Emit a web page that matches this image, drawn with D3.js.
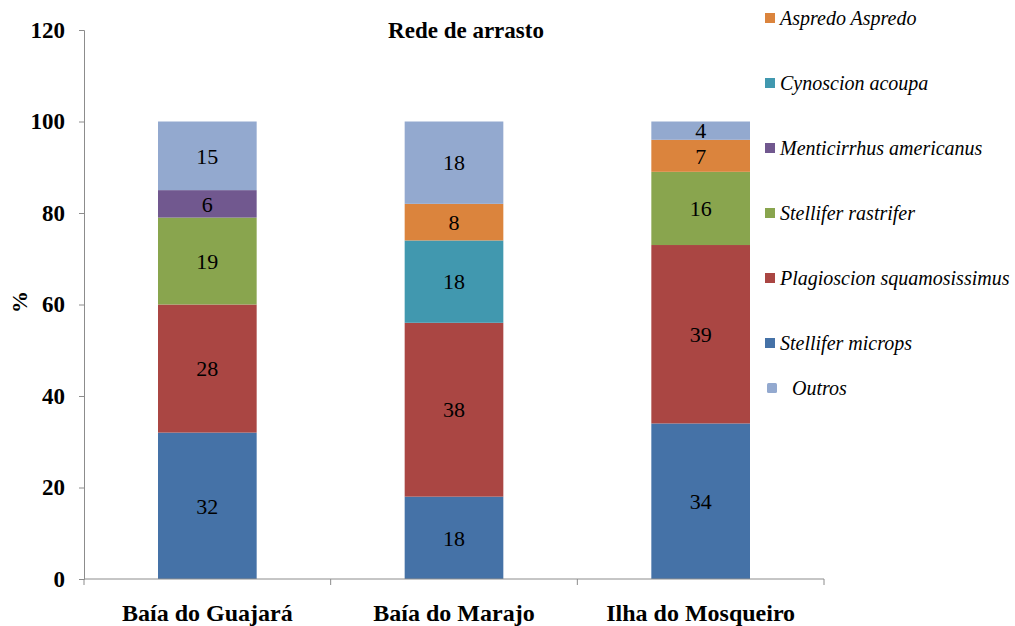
<!DOCTYPE html>
<html>
<head>
<meta charset="utf-8">
<script src="https://cdn.jsdelivr.net/npm/d3@7"></script>
<style>
  body { margin: 0; background: #fff; }
  text { font-family: "Liberation Serif", "Times New Roman", serif; }
</style>
</head>
<body>
<svg id="canvas" width="1015" height="626"></svg>
<script>
// chart data
let sites = ["Baía do Guajará", "Baía do Marajo", "Ilha do Mosqueiro"];
let species = ["Stellifer microps", "Plagioscion squamosissimus", "Stellifer rastrifer",
               "Menticirrhus americanus", "Cynoscion acoupa", "Aspredo Aspredo", "Outros"];
let stelliferMicrops = [32, 18, 34];
let plagioscion = [28, 38, 39];
let stelliferRastrifer = [19, 0, 16];
let menticirrhus = [6, 0, 0];
let cynoscion = [0, 18, 0];
let aspredo = [0, 8, 7];
let outros = [15, 18, 4];
let yTicks = [0, 20, 40, 60, 80, 100, 120];

let colors = ["#4572A7", "#AA4643", "#89A54E", "#71588F", "#4198AF", "#DB843D", "#93A9CF"];
let seriesValues = [stelliferMicrops, plagioscion, stelliferRastrifer, menticirrhus, cynoscion, aspredo, outros];

// build rows for d3.stack
let rows = sites.map((s, i) => {
    let row = { site: s };
    species.forEach((sp, j) => { row[sp] = seriesValues[j][i]; });
    return row;
});

let svg = d3.select("#canvas");
let plotLeft = 84, plotRight = 824, plotTop = 30, plotBottom = 579;

let x = d3.scaleBand().domain(sites).range([plotLeft, plotRight]).paddingInner(0.6).paddingOuter(0.3);
let y = d3.scaleLinear().domain([0, 120]).range([plotBottom, plotTop]);
let color = d3.scaleOrdinal().domain(species).range(colors);

let stacked = d3.stack().keys(species)(rows);

// bars
let layers = svg.append("g").selectAll("g")
    .data(stacked)
    .enter()
    .append("g")
    .attr("fill", d => color(d.key));

layers.selectAll("rect")
    .data(d => d.filter(p => p[1] - p[0] > 0))
    .enter()
    .append("rect")
    .attr("x", d => x(d.data.site))
    .attr("y", d => y(d[1]))
    .attr("width", x.bandwidth())
    .attr("height", d => y(d[0]) - y(d[1]));

// labels inside segments
layers.selectAll("text")
    .data(d => d.filter(p => p[1] - p[0] > 0))
    .enter()
    .append("text")
    .attr("x", d => x(d.data.site) + x.bandwidth() / 2)
    .attr("y", d => (y(d[0]) + y(d[1])) / 2)
    .attr("dy", "0.35em")
    .attr("text-anchor", "middle")
    .attr("fill", "#000")
    .style("font-size", "22px")
    .text(d => d[1] - d[0]);

// y axis
let yAxis = svg.append("g")
    .attr("transform", "translate(" + plotLeft + ",0)")
    .call(d3.axisLeft(y).tickValues(yTicks).tickSize(5).tickPadding(14));
yAxis.selectAll("text").style("font-size", "23px").style("font-weight", "bold").attr("fill", "#000");
yAxis.selectAll("line, path").attr("stroke", "#8c8c8c");

// x axis, ticks between categories
let xAxis = svg.append("g");
xAxis.append("line")
    .attr("x1", plotLeft).attr("x2", plotRight)
    .attr("y1", plotBottom).attr("y2", plotBottom)
    .attr("stroke", "#8c8c8c");
let bounds = sites.map(s => x(s) - (x.step() - x.bandwidth()) / 2).concat([plotRight]);
xAxis.selectAll(".tk")
    .data(bounds)
    .enter()
    .append("line")
    .attr("x1", d => d).attr("x2", d => d)
    .attr("y1", plotBottom).attr("y2", plotBottom + 6)
    .attr("stroke", "#8c8c8c");
xAxis.selectAll(".lbl")
    .data(sites)
    .enter()
    .append("text")
    .attr("x", d => x(d) + x.bandwidth() / 2)
    .attr("y", 621)
    .attr("text-anchor", "middle")
    .style("font-size", "24px")
    .style("font-weight", "bold")
    .text(d => d);

// y title
svg.append("text")
    .attr("transform", "translate(27,302) rotate(-90)")
    .attr("text-anchor", "middle")
    .style("font-size", "22px")
    .style("font-weight", "bold")
    .text("%");

// title
svg.append("text")
    .attr("x", 466)
    .attr("y", 38)
    .attr("text-anchor", "middle")
    .style("font-size", "23px")
    .style("font-weight", "bold")
    .text("Rede de arrasto");

// legend (top to bottom: Aspredo ... microps, then Outros)
let legendOrder = ["Aspredo Aspredo", "Cynoscion acoupa", "Menticirrhus americanus",
                   "Stellifer rastrifer", "Plagioscion squamosissimus", "Stellifer microps", "Outros"];
let legendY = [18, 83, 148, 213, 278, 343, 388];
let legend = svg.append("g").selectAll("g")
    .data(legendOrder)
    .enter()
    .append("g")
    .attr("transform", (d, i) => "translate(765," + legendY[i] + ")");
legend.append("rect")
    .attr("x", d => d === "Outros" ? 2 : 0)
    .attr("y", -5)
    .attr("width", 10)
    .attr("height", 10)
    .attr("rx", d => d === "Outros" ? 1.5 : 0)
    .attr("fill", d => color(d));
legend.append("text")
    .attr("x", d => d === "Outros" ? 27 : 15)
    .attr("y", 0)
    .attr("dy", "0.35em")
    .style("font-size", "20px")
    .style("font-style", "italic")
    .text(d => d);
</script>
</body>
</html>
